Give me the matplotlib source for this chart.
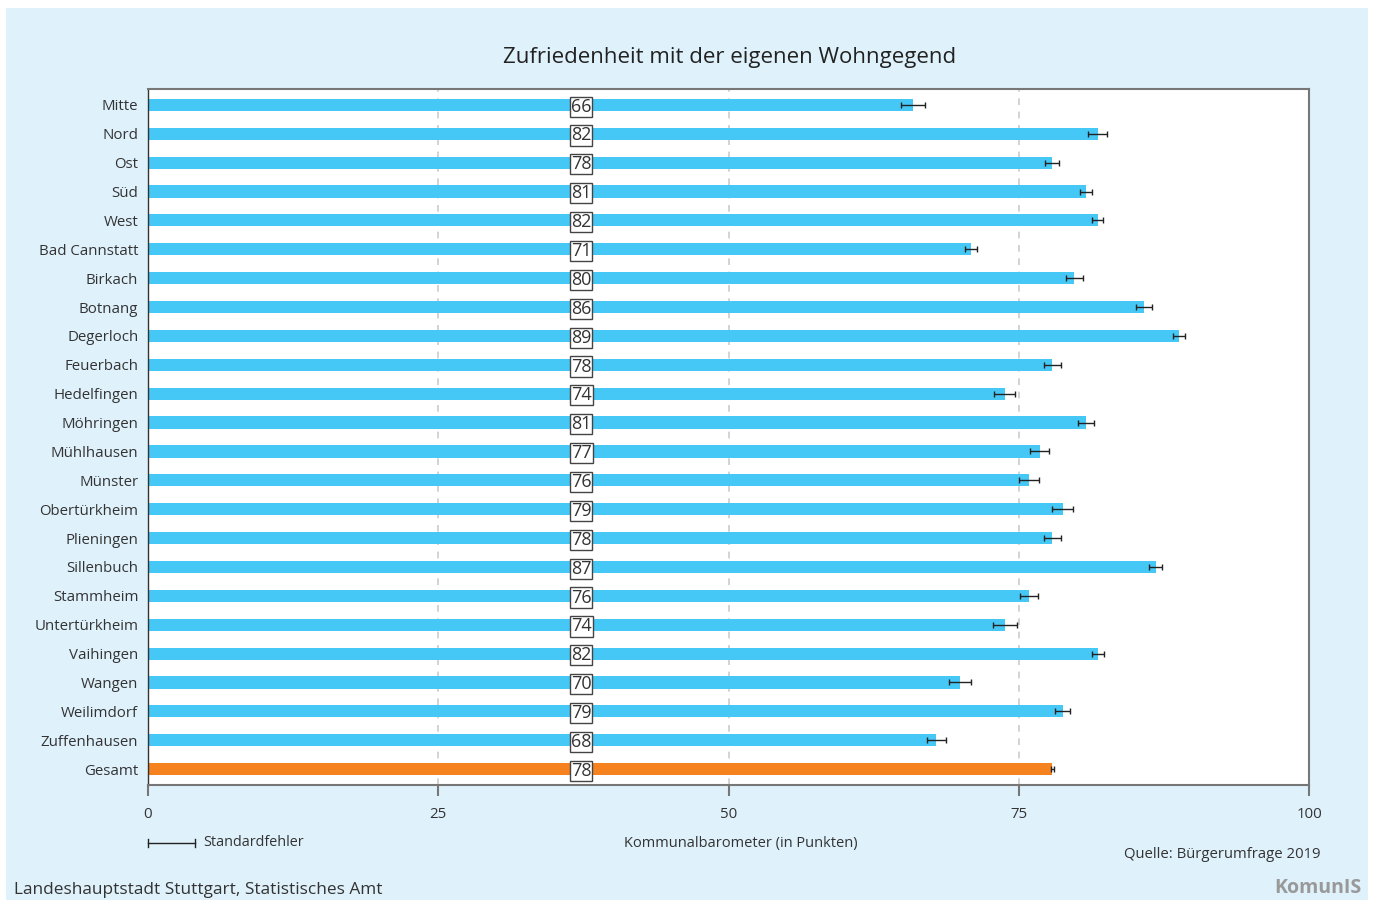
import numpy as np
import matplotlib
matplotlib.use("Agg")
import matplotlib.pyplot as plt
from matplotlib.patches import Rectangle

plt.rcParams['font.family'] = ['Open Sans', 'DejaVu Sans']

# data
districts = ["Mitte", "Nord", "Ost", "Süd", "West", "Bad Cannstatt", "Birkach",
             "Botnang", "Degerloch", "Feuerbach", "Hedelfingen", "Möhringen",
             "Mühlhausen", "Münster", "Obertürkheim", "Plieningen", "Sillenbuch",
             "Stammheim", "Untertürkheim", "Vaihingen", "Wangen", "Weilimdorf",
             "Zuffenhausen", "Gesamt"]
values = [65.9, 81.8, 77.9, 80.8, 81.8, 70.9, 79.8, 85.8, 88.8, 77.9, 73.8, 80.8,
          76.8, 75.9, 78.8, 77.9, 86.8, 75.9, 73.8, 81.8, 69.9, 78.8, 67.9, 77.9]
labels = [66, 82, 78, 81, 82, 71, 80, 86, 89, 78, 74, 81,
          77, 76, 79, 78, 87, 76, 74, 82, 70, 79, 68, 78]
std_err = [1.0, 0.8, 0.6, 0.5, 0.45, 0.5, 0.7, 0.7, 0.55, 0.7, 0.9, 0.7,
           0.8, 0.85, 0.9, 0.75, 0.55, 0.8, 1.05, 0.5, 0.95, 0.65, 0.8, 0.15]
xticks = [0, 25, 50, 75, 100]

blue = "#45c8f5"
orange = "#f5821f"
bg = "#dff1fb"
txt = "#333333"

fig = plt.figure(figsize=(13.75, 9), dpi=100)
fig.patch.set_facecolor("white")
# light blue panel
fig.patches.append(Rectangle((6/1375, 0), (1368-6)/1375, 1-8/900,
                             transform=fig.transFigure, facecolor=bg,
                             edgecolor="none", zorder=-10))

ax = fig.add_axes([148/1375, 1-785/900, (1309-148)/1375, (785-89)/900])
ax.set_facecolor("white")

y = np.arange(len(districts))
colors = [blue]*(len(districts)-1) + [orange]
ax.barh(y, values, height=0.42, color=colors, zorder=2)
ax.errorbar(values, y, xerr=std_err, fmt="none", ecolor="#222222",
            elinewidth=1, capsize=2.5, capthick=1, zorder=3)

for yi, lab in zip(y, labels):
    ax.text(37.3, yi - 0.01, str(lab), ha="center", va="center_baseline",
            fontsize=13, color=txt, zorder=4,
            bbox=dict(boxstyle="square,pad=0.06", facecolor="white",
                      edgecolor="#444444", linewidth=1))

for gx in [25, 50, 75]:
    ax.axvline(gx, color="#cccccc", linestyle=(0, (4, 4)), linewidth=1.2, zorder=1)

ax.set_xlim(0, 100)
ax.set_ylim(len(districts)-0.45, -0.55)
ax.set_yticks(y)
ax.set_yticklabels(districts, fontsize=10.8, color=txt)
ax.tick_params(axis="y", length=0, pad=7)
ax.set_xticks(xticks)
ax.set_xticklabels([str(t) for t in xticks], fontsize=10.8, color=txt)
ax.tick_params(axis="x", length=8, width=1.5, color="#777777", pad=8)
for t in ax.xaxis.get_major_ticks()[1:4]:
    t.tick1line.set_color("#cccccc")
for s in ax.spines.values():
    s.set_color("#777777")
    s.set_linewidth(1.5)
ax.spines["left"].set_color("#333333")
ax.spines["left"].set_linewidth(1)

fig.text(730/1375, 1-57/900, "Zufriedenheit mit der eigenen Wohngegend",
         ha="center", va="center", fontsize=16, color="#222222")
fig.text(741/1375, 1-843/900, "Kommunalbarometer (in Punkten)",
         ha="center", va="center", fontsize=10.5, color=txt)

# legend for the error bars
lx0, lx1, ly = 148/1375, 195/1375, 1-843/900
fig.add_artist(plt.Line2D([lx0, lx1], [ly, ly], color="#222222", lw=1,
                          transform=fig.transFigure))
for lx in (lx0, lx1):
    fig.add_artist(plt.Line2D([lx, lx], [ly-4/900, ly+4/900], color="#222222",
                              lw=1, transform=fig.transFigure))
fig.text(203/1375, ly, "Standardfehler", ha="left", va="center",
         fontsize=10.4, color=txt)

fig.text(1320/1375, 1-855/900, "Quelle: Bürgerumfrage 2019", ha="right",
         va="center", fontsize=10.7, color=txt)
fig.text(14/1375, 1-890/900, "Landeshauptstadt Stuttgart, Statistisches Amt",
         ha="left", va="center", fontsize=12.4, color=txt)
fig.text(1362/1375, 1-888/900, "KomunIS", ha="right", va="center",
         fontsize=14, fontweight="bold", color="#999999")

fig.savefig("out.png", dpi=100, facecolor=fig.get_facecolor())
